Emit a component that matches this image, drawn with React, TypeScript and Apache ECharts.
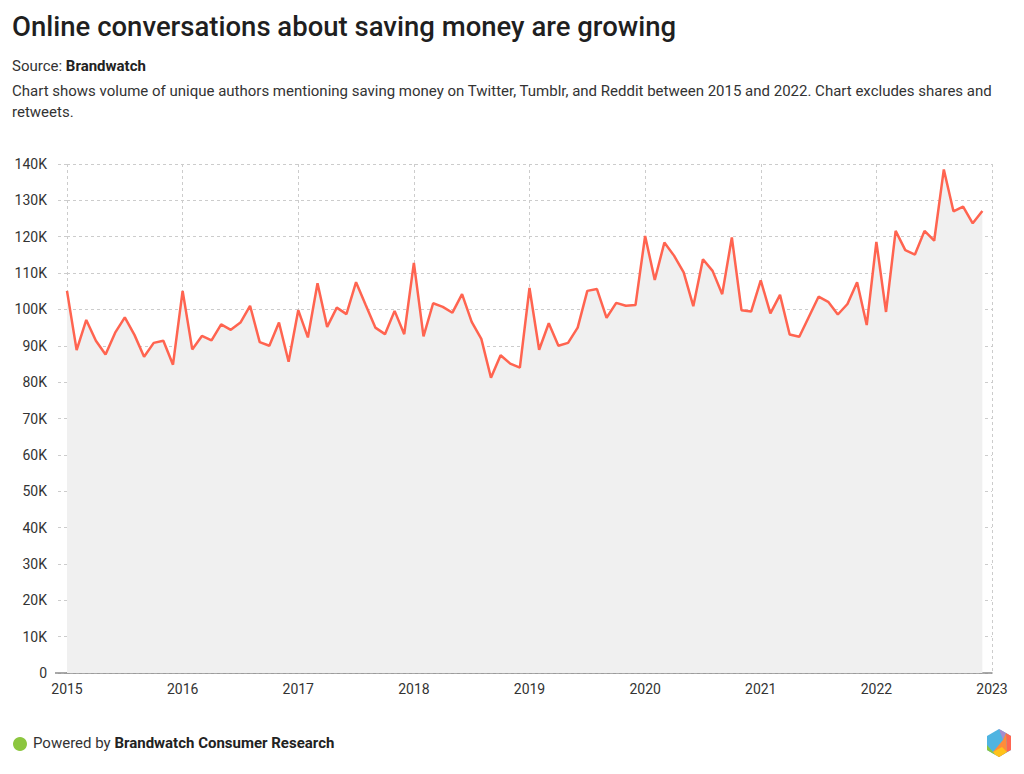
import React, { useEffect, useRef } from "react";
import * as echarts from "echarts";

const title = "Online conversations about saving money are growing";
const sourceLabel = "Source: ";
const sourceName = "Brandwatch";
const descLine1 =
  "Chart shows volume of unique authors mentioning saving money on Twitter, Tumblr, and Reddit between 2015 and 2022. Chart excludes shares and";
const descLine2 = "retweets.";
const footerPrefix = "Powered by ";
const footerName = "Brandwatch Consumer Research";

const startYear = 2015;
const endYear = 2023;

// Monthly unique authors (thousands), Jan 2015 .. Dec 2022
const values2015 = [105.1, 88.8, 97.1, 91.4, 87.6, 93.6, 97.8, 93.0, 87.0, 90.8, 91.4, 84.8];
const values2016 = [105.1, 89.0, 92.7, 91.5, 95.9, 94.4, 96.4, 101.0, 91.0, 90.0, 96.4, 85.6];
const values2017 = [99.8, 92.3, 107.2, 95.2, 100.5, 98.7, 107.5, 101.2, 95.0, 93.2, 99.6, 93.2];
const values2018 = [112.8, 92.6, 101.7, 100.7, 99.1, 104.2, 96.6, 91.9, 81.2, 87.4, 85.1, 84.0];
const values2019 = [105.9, 88.9, 96.2, 90.0, 90.8, 95.0, 105.1, 105.6, 97.7, 101.8, 101.0, 101.2];
const values2020 = [120.2, 108.1, 118.4, 114.8, 110.2, 100.9, 113.8, 110.6, 104.2, 119.8, 99.8, 99.4];
const values2021 = [108.0, 98.9, 104.0, 93.1, 92.5, 98.0, 103.5, 102.1, 98.6, 101.5, 107.5, 95.7];
const values2022 = [118.6, 99.3, 121.6, 116.3, 115.1, 121.6, 118.9, 138.5, 127.0, 128.3, 123.7, 127.1];

const monthlyValues = [
  ...values2015,
  ...values2016,
  ...values2017,
  ...values2018,
  ...values2019,
  ...values2020,
  ...values2021,
  ...values2022,
];

export default function App() {
  const ref = useRef<HTMLDivElement>(null);

  useEffect(() => {
    if (!ref.current) return;
    const chart = echarts.init(ref.current, undefined, { renderer: "svg" });
    const data = monthlyValues.map((v, i) => [startYear + i / 12, v * 1000]);
    const font = "Roboto, 'Noto Sans', sans-serif";

    chart.setOption({
      animation: false,
      backgroundColor: "#ffffff",
      textStyle: { fontFamily: font },
      grid: { left: 67, right: 32, top: 164, bottom: 101, containLabel: false },
      xAxis: {
        type: "value",
        min: startYear,
        max: endYear,
        interval: 1,
        axisLine: { show: true, lineStyle: { color: "#8c8c8c", width: 1.5 } },
        axisTick: { show: false },
        axisLabel: {
          color: "#333333",
          fontSize: 14,
          fontFamily: font,
          margin: 9,
          formatter: (v: number) => String(Math.round(v)),
        },
        splitLine: { show: true, lineStyle: { color: "#cccccc", type: [3, 3], width: 1 } },
      },
      yAxis: {
        type: "value",
        min: 0,
        max: 140000,
        interval: 10000,
        axisLine: { show: false },
        axisTick: { show: true, length: 12, lineStyle: { color: "#cccccc", type: [3, 3], width: 1 } },
        axisLabel: {
          color: "#333333",
          fontSize: 14,
          fontFamily: font,
          margin: 20,
          formatter: (v: number) => (v === 0 ? "0" : v / 1000 + "K"),
        },
        splitLine: { show: true, lineStyle: { color: "#cccccc", type: [3, 3], width: 1 } },
      },
      series: [
        {
          type: "line",
          data,
          symbol: "none",
          lineStyle: { color: "#ff6450", width: 2.5 },
          itemStyle: { color: "#ff6450" },
          areaStyle: { color: "#f0f0f0", opacity: 1 },
          z: 3,
        },
      ],
      graphic: [
        {
          type: "text",
          left: 12,
          top: 12,
          style: { text: title, fontSize: 27.5, fontWeight: 500, fill: "#1f1f1f", fontFamily: font },
        },
        {
          type: "text",
          left: 12,
          top: 58,
          style: {
            text: "{a|" + sourceLabel + "}{b|" + sourceName + "}",
            fontFamily: font,
            rich: {
              a: { fontSize: 15, fill: "#333333", fontFamily: font },
              b: { fontSize: 15, fill: "#222222", fontWeight: "bold", fontFamily: font },
            },
          },
        },
        {
          type: "text",
          left: 12,
          top: 83,
          style: { text: descLine1, fontSize: 15, fill: "#333333", fontFamily: font },
        },
        {
          type: "text",
          left: 12,
          top: 104,
          style: { text: descLine2, fontSize: 15, fill: "#333333", fontFamily: font },
        },
        {
          type: "line",
          shape: { x1: 55, y1: 673, x2: 67, y2: 673 },
          style: { stroke: "#8c8c8c", lineWidth: 1.5 },
          z: 10,
        },
        {
          type: "circle",
          shape: { cx: 20, cy: 744, r: 7 },
          style: { fill: "#8cc63f" },
        },
        {
          type: "text",
          left: 33,
          top: 735,
          style: {
            text: "{a|" + footerPrefix + "}{b|" + footerName + "}",
            fontFamily: font,
            rich: {
              a: { fontSize: 15, fill: "#333333", fontFamily: font },
              b: { fontSize: 15, fill: "#222222", fontWeight: "bold", fontFamily: font },
            },
          },
        },
        {
          type: "group",
          children: [
            { type: "polygon", shape: { points: [[999, 729], [1011, 736], [1011, 750], [999, 757], [987, 750], [987, 736]] }, style: { fill: "#4fb4e1" } },
            { type: "polygon", shape: { points: [[999, 729], [1006, 733], [1003, 740]] }, style: { fill: "#a58ccf" } },
            { type: "polygon", shape: { points: [[1006, 733], [1011, 736], [1011, 750], [1007, 752]] }, style: { fill: "#ff6652" } },
            { type: "polygon", shape: { points: [[1003, 740], [1006, 733], [1007, 752], [999, 757], [993, 752]] }, style: { fill: "#ff8c3a" } },
            { type: "polygon", shape: { points: [[993, 752], [1002, 747], [1007, 752], [999, 757], [995, 754.7]] }, style: { fill: "#ffc21a" } },
            { type: "polygon", shape: { points: [[987, 745], [993, 752], [995, 754.7], [987, 750]] }, style: { fill: "#8cc63f" } },
          ],
        },
      ],
    });

    return () => chart.dispose();
  }, []);

  return (
    <div
      ref={ref}
      style={{ position: "fixed", left: 0, top: 0, width: 1024, height: 774 }}
    />
  );
}
